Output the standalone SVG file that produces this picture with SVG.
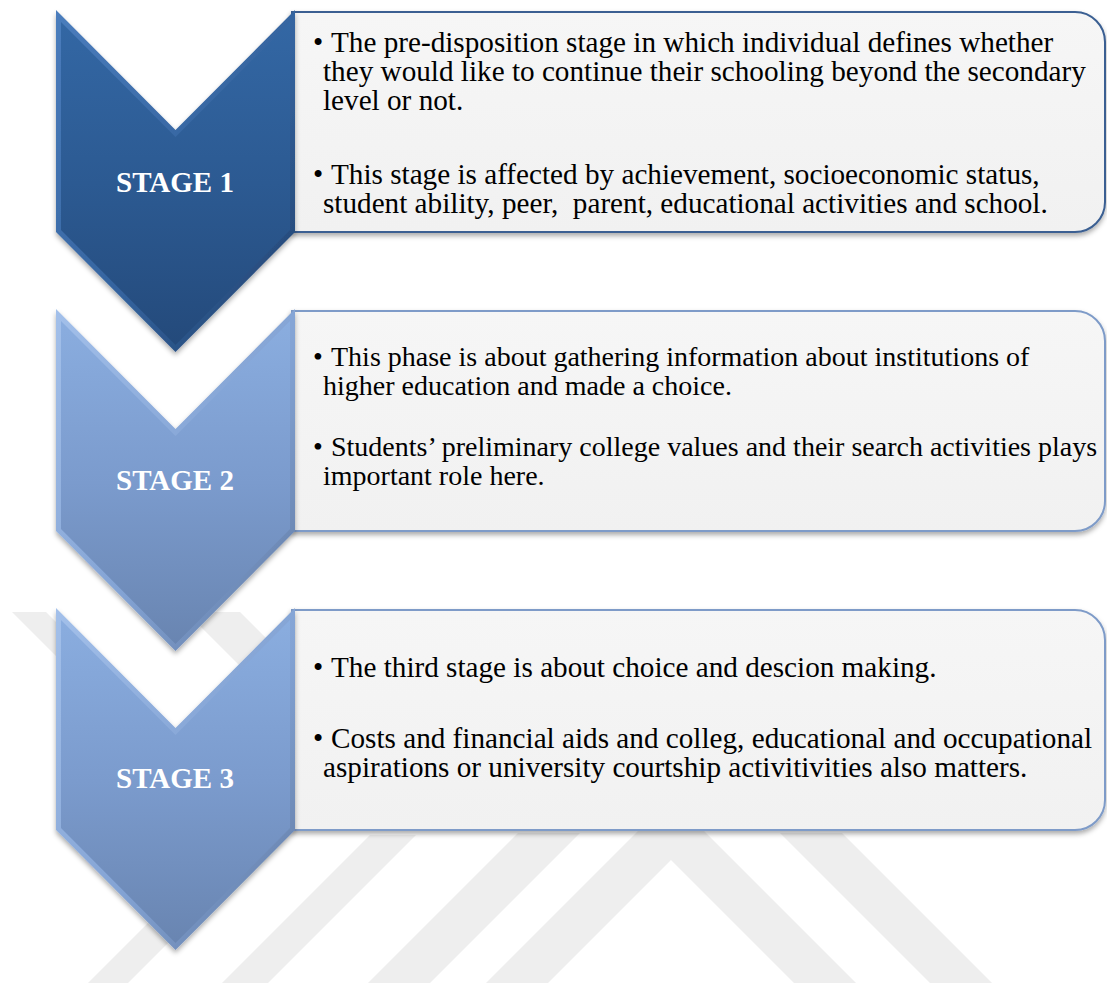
<svg xmlns="http://www.w3.org/2000/svg" width="1107" height="983" viewBox="0 0 1107 983">
  <style>
    .body { font-family: "Liberation Serif", "Times New Roman", serif; font-size: 29.2px; fill: #000; }
    .body.s2 { font-size: 28px; }
    .stage { font-family: "Liberation Serif", "Times New Roman", serif; font-size: 29px; font-weight: bold; fill: #fff; text-anchor: middle; }
    .wm { fill: #eeeeee; }
  </style>
  <defs>
    <!-- dark blue chevron (stage 1) -->
    <linearGradient id="g1main" x1="0" y1="0" x2="0" y2="1">
      <stop offset="0" stop-color="#3367a4"/>
      <stop offset="0.5" stop-color="#2c5a92"/>
      <stop offset="1" stop-color="#244a7b"/>
    </linearGradient>
    <linearGradient id="g1edge" x1="0" y1="0" x2="1" y2="1">
      <stop offset="0" stop-color="#4b7dbd"/>
      <stop offset="0.55" stop-color="#34639e"/>
      <stop offset="1" stop-color="#203f6a"/>
    </linearGradient>
    <!-- light blue chevrons (stages 2, 3) -->
    <linearGradient id="g2main" x1="0" y1="0" x2="0" y2="1">
      <stop offset="0" stop-color="#8aaddf"/>
      <stop offset="0.5" stop-color="#7b9bcd"/>
      <stop offset="1" stop-color="#6985b1"/>
    </linearGradient>
    <linearGradient id="g2edge" x1="0" y1="0" x2="1" y2="1">
      <stop offset="0" stop-color="#a3c0ea"/>
      <stop offset="0.55" stop-color="#83a3d4"/>
      <stop offset="1" stop-color="#5f79a2"/>
    </linearGradient>
    <!-- text panel fill -->
    <linearGradient id="panel" x1="0" y1="0" x2="0" y2="1">
      <stop offset="0" stop-color="#f6f6f6"/>
      <stop offset="1" stop-color="#f1f1f1"/>
    </linearGradient>
    <filter id="shadow" x="-10%" y="-10%" width="120%" height="125%">
      <feDropShadow dx="0" dy="3" stdDeviation="2.5" flood-color="#000" flood-opacity="0.33"/>
    </filter>
    <!-- chevron outline and its bevel-inset core -->
    <path id="chev" d="M56,0 L175.5,120 L295,0 V222 L175.5,342 L56,222 Z"/>
    <path id="chevIn" d="M61,12 L175.5,127 L290,12 V220 L175.5,335 L61,220 Z"/>
    <!-- text panel with rounded right corners -->
    <path id="box" d="M292,2 H1075 A30,30 0 0 1 1105,32 V192 A30,30 0 0 1 1075,222 H292 Z"/>
  </defs>

  <rect width="1107" height="983" fill="#fff"/>

  <!-- faint background emblem -->
  <g id="emblem">
    <polygon class="wm" points="12,612 46,612 130,696 96,696"/>
    <polygon class="wm" points="186,612 240,612 330,702 276,702"/>
    <polygon class="wm" points="88,983 128,983 276,835 236,835"/>
    <polygon class="wm" points="222,983 268,983 416,835 370,835"/>
    <polygon class="wm" points="368,983 430,983 580,833 518,833"/>
    <polygon class="wm" points="486,983 548,983 671,860 794,983 856,983 671,798"/>
    <polygon class="wm" points="780,833 842,833 992,983 930,983"/>
  </g>

  <g id="connectors"/>

  <!-- Stage 1 -->
  <g id="stage1">
    <use href="#box" transform="translate(0,10)" fill="url(#panel)" stroke="#3a5f92" stroke-width="2" filter="url(#shadow)"/>
    <use href="#chev" transform="translate(0,10)" fill="url(#g1edge)" filter="url(#shadow)"/>
    <use href="#chevIn" transform="translate(0,10)" fill="url(#g1main)"/>
    <text class="stage" x="175" y="192">STAGE 1</text>
    <text class="body" y="52"><tspan x="313">•</tspan><tspan x="331">The pre-disposition stage in which individual defines whether</tspan></text>
    <text class="body" x="323" y="81">they would like to continue their schooling beyond the secondary</text>
    <text class="body" x="323" y="110">level or not.</text>
    <text class="body" y="184"><tspan x="313">•</tspan><tspan x="331">This stage is affected by achievement, socioeconomic status,</tspan></text>
    <text class="body" x="323" y="213">student ability, peer,&#160; parent, educational activities and school.</text>
  </g>

  <!-- Stage 2 -->
  <g id="stage2">
    <use href="#box" transform="translate(0,309)" fill="url(#panel)" stroke="#7e9bc8" stroke-width="2" filter="url(#shadow)"/>
    <use href="#chev" transform="translate(0,309)" fill="url(#g2edge)" filter="url(#shadow)"/>
    <use href="#chevIn" transform="translate(0,309)" fill="url(#g2main)"/>
    <text class="stage" x="175" y="490">STAGE 2</text>
    <text class="body s2" y="366"><tspan x="313">•</tspan><tspan x="331">This phase is about gathering information about institutions of</tspan></text>
    <text class="body s2" x="323" y="395">higher education and made a choice.</text>
    <text class="body s2" y="456"><tspan x="313">•</tspan><tspan x="331">Students’ preliminary college values and their search activities plays</tspan></text>
    <text class="body s2" x="323" y="485">important role here.</text>
  </g>

  <!-- Stage 3 -->
  <g id="stage3">
    <use href="#box" transform="translate(0,608)" fill="url(#panel)" stroke="#7e9bc8" stroke-width="2" filter="url(#shadow)"/>
    <use href="#chev" transform="translate(0,608)" fill="url(#g2edge)" filter="url(#shadow)"/>
    <use href="#chevIn" transform="translate(0,608)" fill="url(#g2main)"/>
    <text class="stage" x="175" y="788">STAGE 3</text>
    <text class="body" y="677"><tspan x="313">•</tspan><tspan x="331">The third stage is about choice and descion making.</tspan></text>
    <text class="body" y="748"><tspan x="313">•</tspan><tspan x="331">Costs and financial aids and colleg, educational and occupational</tspan></text>
    <text class="body" x="323" y="777">aspirations or university courtship activitivities also matters.</text>
  </g>
</svg>
